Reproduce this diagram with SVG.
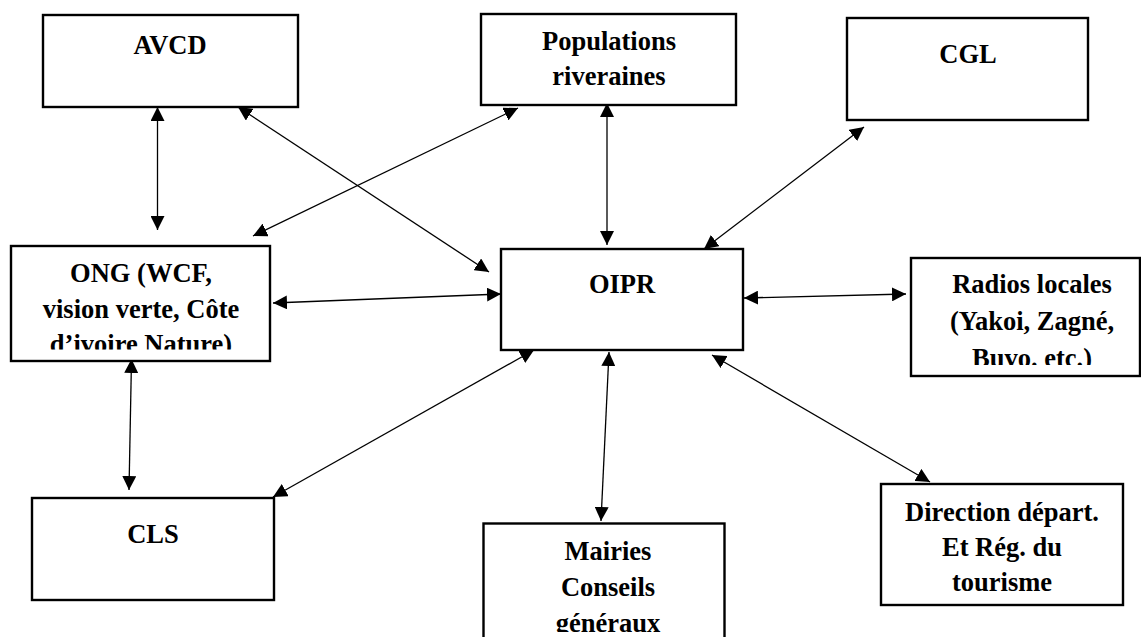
<svg xmlns="http://www.w3.org/2000/svg" width="1141" height="637" viewBox="0 0 1141 637">
<style>
.box{fill:#fff;stroke:#000;stroke-width:2.4}
.lbl{font-family:'Liberation Serif','Times New Roman',serif;font-weight:700;font-size:26.5px;fill:#000;text-anchor:middle}
.con{stroke:#000;stroke-width:1.3;fill:none;marker-start:url(#ah);marker-end:url(#ah)}
</style>
<defs>
<marker id="ah" markerUnits="userSpaceOnUse" markerWidth="15" markerHeight="14" refX="14" refY="7" orient="auto-start-reverse" viewBox="0 0 15 14">
<path d="M0,0 L14,7 L0,14 z" fill="#000"/>
</marker>
<clipPath id="cONG"><rect x="11" y="245" width="259" height="104.5"/></clipPath>
<clipPath id="cRAD"><rect x="911" y="257" width="230" height="108"/></clipPath>
<clipPath id="cMAI"><rect x="483" y="523" width="242" height="109"/></clipPath>
</defs>
<rect width="1141" height="637" fill="#fff"/>
<g id="connectors">
<line class="con" x1="157.5" y1="107" x2="157.5" y2="230"/>
<line class="con" x1="238" y1="107" x2="489" y2="272"/>
<line class="con" x1="518" y1="108" x2="253" y2="236"/>
<line class="con" x1="607" y1="103" x2="607" y2="245"/>
<line class="con" x1="864" y1="127" x2="704" y2="249"/>
<line class="con" x1="273" y1="303" x2="501" y2="294"/>
<line class="con" x1="744" y1="298" x2="906" y2="294"/>
<line class="con" x1="131.5" y1="359" x2="129" y2="490"/>
<line class="con" x1="534" y1="350" x2="273" y2="497"/>
<line class="con" x1="609" y1="352" x2="601" y2="521"/>
<line class="con" x1="712" y1="355" x2="930" y2="482"/>
</g>
<g id="AVCD">
<rect class="box" x="43" y="15" width="255" height="92"/>
<text class="lbl" x="170" y="54">AVCD</text>
</g>
<g id="Populations">
<rect class="box" x="481" y="14" width="255" height="91"/>
<text class="lbl" x="609" y="50">Populations</text>
<text class="lbl" x="609" y="85">riveraines</text>
</g>
<g id="CGL">
<rect class="box" x="847" y="18" width="241" height="102"/>
<text class="lbl" x="968" y="63">CGL</text>
</g>
<g id="ONG">
<rect class="box" x="11" y="246" width="259" height="115"/>
<g clip-path="url(#cONG)">
<text class="lbl" x="141" y="282">ONG (WCF,</text>
<text class="lbl" x="141" y="317.5">vision verte, Côte</text>
<text class="lbl" x="141" y="353">d’ivoire Nature)</text>
</g>
</g>
<g id="OIPR">
<rect class="box" x="501" y="249" width="242" height="101"/>
<text class="lbl" x="622" y="293">OIPR</text>
</g>
<g id="Radios">
<rect class="box" x="911" y="258" width="229" height="118"/>
<g clip-path="url(#cRAD)">
<text class="lbl" x="1032" y="293">Radios locales</text>
<text class="lbl" x="1032" y="330">(Yakoi, Zagné,</text>
<text class="lbl" x="1032" y="367">Buvo. etc.)</text>
</g>
</g>
<g id="CLS">
<rect class="box" x="32" y="498" width="242" height="102"/>
<text class="lbl" x="153" y="543">CLS</text>
</g>
<g id="Mairies">
<rect class="box" x="483.5" y="523.5" width="241" height="130"/>
<g clip-path="url(#cMAI)">
<text class="lbl" x="608" y="560">Mairies</text>
<text class="lbl" x="608" y="596">Conseils</text>
<text class="lbl" x="608" y="631.5">généraux</text>
</g>
</g>
<g id="Direction">
<rect class="box" x="881" y="484" width="242" height="121"/>
<text class="lbl" x="1002" y="521">Direction départ.</text>
<text class="lbl" x="1002" y="556">Et Rég. du</text>
<text class="lbl" x="1002" y="591">tourisme</text>
</g>
</svg>
